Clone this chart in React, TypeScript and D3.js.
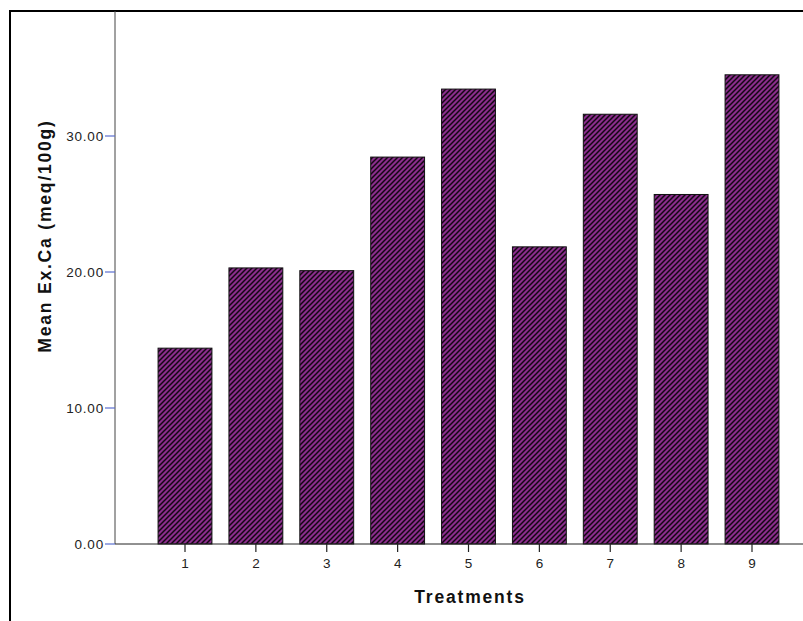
import React from "react";
import * as d3 from "d3";

const treatments = ["1", "2", "3", "4", "5", "6", "7", "8", "9"];
const meanExCa = [14.4, 20.3, 20.1, 28.45, 33.45, 21.85, 31.6, 25.7, 34.5];
const yTicks = [0, 10, 20, 30];

const App: React.FC = () => {
    const width = 803;
    const height = 621;
    const axisX = 115;
    const axisBottom = 544;

    const xScale = d3.scalePoint<string>()
        .domain(treatments)
        .range([185, 752]);
    const barWidth = xScale.step() * 0.76;

    const yScale = d3.scaleLinear()
        .domain([0, 10])
        .range([axisBottom, axisBottom - 136]);

    return (
        <svg width={width} height={height}
             style={{position: "absolute", left: 0, top: 0, background: "white"}}
             fontFamily="'Liberation Sans', Arial, sans-serif">
            <defs>
                <pattern id="hatch" width={5} height={5} patternUnits="userSpaceOnUse">
                    <rect width={5} height={5} fill="#8a2d8c"/>
                    <path d="M-1,1 l2,-2 M0,5 l5,-5 M4,6 l2,-2" stroke="#120612" strokeWidth={1.5}/>
                </pattern>
            </defs>

            {/* рамка */}
            <rect x={10} y={11} width={width} height={height} fill="none" stroke="black" strokeWidth={2}/>

            {/* столбики */}
            {meanExCa.map((v, i) => (
                <rect key={i}
                      x={xScale(treatments[i])! - barWidth / 2}
                      y={yScale(v)}
                      width={barWidth}
                      height={axisBottom - yScale(v)}
                      fill="url(#hatch)"
                      stroke="#111" strokeWidth={1}/>
            ))}

            {/* ось Y */}
            <line x1={axisX} y1={11} x2={axisX} y2={axisBottom} stroke="#444" strokeWidth={1}/>
            {yTicks.map(t => (
                <g key={t} transform={`translate(${axisX}, ${yScale(t)})`}>
                    <line x1={-10} x2={0} stroke="#5a6fcf" strokeWidth={1.2}/>
                    <text x={-11} textAnchor="end" dy="0.36em" fontSize={13.5} letterSpacing={0.8}
                          fill="#222">
                        {t.toFixed(2)}
                    </text>
                </g>
            ))}

            {/* ось X */}
            <line x1={axisX} y1={axisBottom} x2={width} y2={axisBottom} stroke="#222" strokeWidth={1}/>
            {treatments.map(t => (
                <g key={t} transform={`translate(${xScale(t)}, ${axisBottom})`}>
                    <line y2={8} stroke="#222" strokeWidth={1.2}/>
                    <text y={24} textAnchor="middle" fontSize={13.5} fill="#222">{t}</text>
                </g>
            ))}

            <text x={470} y={603} textAnchor="middle" fontSize={17.5} letterSpacing={1.8}
                  fontWeight="bold" fill="#111">
                Treatments
            </text>
            <text transform={`translate(51, 236) rotate(-90)`} textAnchor="middle" fontSize={17.5}
                  letterSpacing={1.8} fontWeight="bold" fill="#111">
                Mean Ex.Ca (meq/100g)
            </text>
        </svg>
    );
};

export default App;
